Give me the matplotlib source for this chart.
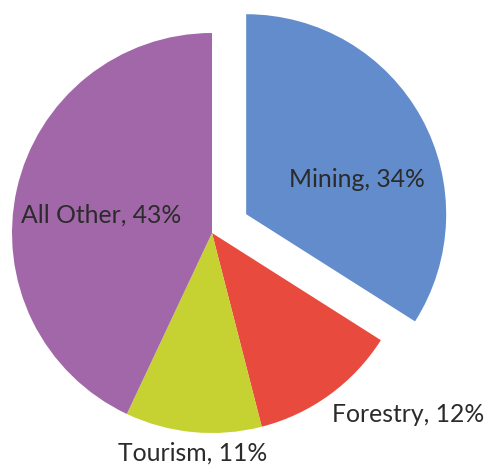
import numpy as np
import matplotlib.pyplot as plt

sectors = ["Mining", "Forestry", "Tourism", "All Other"]
shares = [34, 12, 11, 43]
colors = ["#628CCB", "#E84A3E", "#C5D231", "#A267A9"]
explode = [0.195, 0, 0, 0]

# label placement (data coords, pie radius = 1)
label_xy = [(0.725, 0.265), (0.98, -0.91), (-0.095, -1.1), (-0.555, 0.09)]

fig = plt.figure(figsize=(4.85, 4.68), dpi=100)
ax = fig.add_axes([0, 0, 1, 1])

ax.pie(shares, colors=colors, explode=explode, startangle=90,
       counterclock=False, radius=1, center=(0, 0),
       wedgeprops=dict(linewidth=0))

for name, val, (x, y) in zip(sectors, shares, label_xy):
    ax.text(x, y, f"{name}, {val}%", ha="center", va="center",
            fontsize=17.8, family="Lato", color="#2b2b2b")

ax.set_xlim(-1.06, 1.365)
ax.set_ylim(-1.175, 1.165)
ax.set_aspect("equal")
ax.axis("off")

fig.savefig("out.png", dpi=100)
